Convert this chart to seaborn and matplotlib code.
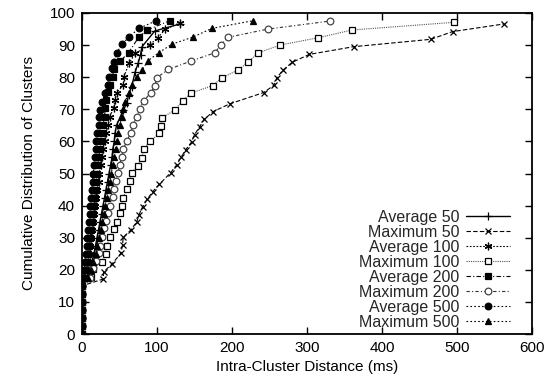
import matplotlib
matplotlib.use("Agg")
import matplotlib.pyplot as plt
import seaborn as sns

# ---- data ----
zeros_y = [0, 2.5, 5, 7.5, 10, 12.5, 15]
zeros_x = [0, 0, 0, 0, 0, 0, 0]

avg50_x = zeros_x + [6, 10, 13, 16, 18, 20, 22, 24, 26, 28, 30, 32, 34, 36, 38, 40, 41, 43, 44, 46, 55, 60, 62, 66, 71, 75, 78, 80, 97, 131]
avg50_y = zeros_y + [17.5, 20, 22.5, 25, 27.5, 30, 32.5, 35, 37.5, 40, 42.5, 45, 47.5, 50, 52.5, 55, 57.5, 60, 62.5, 65, 69.8, 71.9, 74.5, 77, 81.7, 84.5, 87, 89.5, 94.4, 96.6]

max50_x = zeros_x + [28, 29, 40, 52, 54, 55, 65, 73, 76, 81, 87, 94, 103, 118, 126, 132, 138, 146, 150, 157, 163, 175, 197, 242, 256, 260, 268, 280, 303, 362, 465, 494, 563]
max50_y = zeros_y + [17.1, 19.4, 21.8, 25.2, 27.7, 30.1, 32.4, 34.9, 37.2, 39.7, 42.0, 44.3, 46.6, 50.2, 52.6, 55.0, 57.3, 59.8, 62.1, 64.6, 66.9, 69.3, 71.7, 75.2, 77.5, 79.9, 82.2, 84.6, 87.1, 89.5, 91.8, 94.2, 96.6]

avg100_x = zeros_x + [4, 6, 8, 10, 11, 12, 13, 15, 16, 17, 19, 20, 22, 23, 25, 26, 28, 30, 32, 35, 37, 42, 44, 46, 55, 56, 63, 71, 90, 101, 111, 131]
avg100_y = zeros_y + [17.5, 20, 22.5, 25, 27.5, 30, 32.5, 35, 37.5, 40, 42.5, 45, 47.5, 50, 52.5, 55, 57.5, 60, 62.5, 65.1, 67.7, 70.3, 72.9, 75, 77.6, 80.2, 84.5, 87.4, 90, 92.3, 94.9, 97]

max100_x = zeros_x + [12, 15, 26, 32, 33, 37, 42, 47, 51, 53, 54, 60, 64, 66, 74, 80, 82, 91, 103, 105, 107, 124, 134, 145, 174, 187, 208, 221, 235, 264, 315, 360, 496]
max100_y = zeros_y + [17.9, 20.2, 22.5, 24.9, 27.4, 30.3, 32.6, 35.0, 37.6, 39.9, 42.3, 45.1, 47.7, 50.2, 52.4, 54.7, 57.6, 60.1, 62.5, 64.9, 67.4, 69.8, 72.6, 75.0, 77.4, 79.9, 82.2, 84.6, 87.6, 90.0, 92.3, 94.7, 97.1]

avg200_x = zeros_x + [3, 5, 6, 8, 9, 11, 12, 13, 14, 16, 17, 18, 19, 20, 21, 22, 24, 25, 26, 28, 30, 31, 32, 35, 37, 41, 42, 51, 62, 76, 87, 117]
avg200_y = zeros_y + [17.5, 20, 22.5, 25, 27.5, 30, 32.5, 35, 37.5, 40, 42.5, 45, 47.5, 50, 52.5, 55, 57.5, 60, 62.5, 65, 67.7, 70.3, 72.9, 75.5, 77.6, 80.2, 82.4, 85, 87.6, 92.6, 94.7, 97.6]

max200_x = zeros_x + [10, 15, 19, 22, 24, 26, 29, 32, 35, 37, 41, 43, 45, 48, 50, 53, 55, 60, 65, 68, 73, 77, 82, 92, 97, 100, 115, 145, 177, 185, 194, 248, 331]
max200_y = zeros_y + [17.5, 20.5, 22.8, 25.1, 27.5, 30.1, 32.9, 35.3, 37.6, 39.9, 42.6, 45.1, 47.7, 50.2, 52.6, 55.2, 57.6, 60.2, 62.7, 65.1, 67.7, 70.1, 72.6, 75.2, 77.3, 79.9, 82.4, 85.0, 87.6, 90.0, 92.4, 95.0, 97.5]

avg500_x = zeros_x + [2, 3, 4, 5, 6, 7, 8, 9, 10, 11, 12, 13, 14, 15, 16, 17, 18, 19, 20, 22, 23, 24, 27, 31, 34, 36, 40, 42, 46, 53, 63, 76, 99]
avg500_y = zeros_y + [17.5, 20, 22.5, 25, 27.5, 30, 32.5, 35, 37.5, 40, 42.5, 45, 47.5, 50, 52.5, 55, 57.5, 60, 62.5, 65.1, 67.7, 69.8, 72.4, 75, 77.6, 80.2, 82.8, 84.8, 87.4, 90.2, 92.6, 95.2, 97.6]

max500_x = zeros_x + [8, 12, 15, 18, 20, 22, 25, 27, 29, 31, 33, 35, 37, 39, 41, 43, 45, 47, 48, 50, 53, 55, 57, 63, 66, 73, 80, 88, 102, 120, 148, 173, 228]
max500_y = zeros_y + [17.5, 20, 22.5, 25, 27.5, 30, 32.5, 35, 37.5, 40, 42.5, 45, 47.5, 50, 52.5, 55, 57.5, 60, 62.5, 65, 67.5, 70, 72.4, 75, 77.6, 80.2, 82.2, 85.1, 87.6, 90.3, 92.5, 95.2, 97.6]

labels = ["Average 50", "Maximum 50", "Average 100", "Maximum 100",
          "Average 200", "Maximum 200", "Average 500", "Maximum 500"]
xs = [avg50_x, max50_x, avg100_x, max100_x, avg200_x, max200_x, avg500_x, max500_x]
ys = [avg50_y, max50_y, avg100_y, max100_y, avg200_y, max200_y, avg500_y, max500_y]

x_ticks = [0, 100, 200, 300, 400, 500, 600]
y_ticks = [0, 10, 20, 30, 40, 50, 60, 70, 80, 90, 100]

# ---- styles ----
styles = [
    dict(marker="+", linestyle="-", color="black", mfc="black", ms=5.5, lw=1.0),
    dict(marker="x", linestyle=(0, (4, 2)), color="black", mfc="black", ms=4.5, lw=0.8),
    dict(marker=(6, 2, 0), linestyle=(0, (1.5, 1.5)), color="black", mfc="black", ms=5.5, lw=0.8),
    dict(marker="s", linestyle=(0, (1, 1)), color="#555555", mfc="white", mec="black", ms=4.8, lw=0.8),
    dict(marker="s", linestyle=(0, (4, 2, 1, 2)), color="black", mfc="black", ms=4.8, lw=0.8),
    dict(marker="o", linestyle=(0, (3, 2, 1, 2)), color="#333333", mfc="white", mec="#444444", ms=4.8, lw=0.8),
    dict(marker="o", linestyle=(0, (1.5, 2)), color="black", mfc="black", ms=4.8, lw=0.8),
    dict(marker="^", linestyle=(0, (1.5, 2)), color="black", mfc="black", ms=4.8, lw=0.8),
]

sns.set_theme(style="ticks")
plt.rcParams["font.family"] = ["Liberation Sans", "DejaVu Sans"]

fig = plt.figure(figsize=(5.5, 3.83), dpi=100)
ax = fig.add_axes([82 / 550, 1 - 334 / 383, 450 / 550, 321 / 383])

for x, y, lab, st in zip(xs, ys, labels, styles):
    st = dict(st)
    mec = st.pop("mec", st["color"])
    sns.lineplot(x=x, y=y, ax=ax, label=lab, estimator=None, sort=False,
                 marker=st["marker"], linestyle=st["linestyle"], color=st["color"],
                 markerfacecolor=st["mfc"], markeredgecolor=mec, markersize=st["ms"],
                 markeredgewidth=0.9, linewidth=st["lw"])

ax.set_xlim(0, 600)
ax.set_ylim(0, 100)
ax.set_xticks(x_ticks)
ax.set_yticks(y_ticks)
ax.tick_params(direction="in", length=5, width=1, top=True, right=True,
               labelsize=11, colors="black", pad=5)
for sp in ax.spines.values():
    sp.set_visible(True)
    sp.set_linewidth(1.3)
    sp.set_color("black")
ax.set_xlabel("Intra-Cluster Distance (ms)", fontsize=11, color="black", labelpad=4)
ax.set_ylabel("Cumulative Distribution of Clusters", fontsize=11, color="black", labelpad=10)

leg = ax.legend(loc="lower right", bbox_to_anchor=(0.975, -0.022), markerfirst=False,
                frameon=False, fontsize=11.5, handlelength=2.7, handletextpad=0.45,
                labelspacing=0.0, borderpad=0.2)

fig.savefig("out.png", dpi=100)
